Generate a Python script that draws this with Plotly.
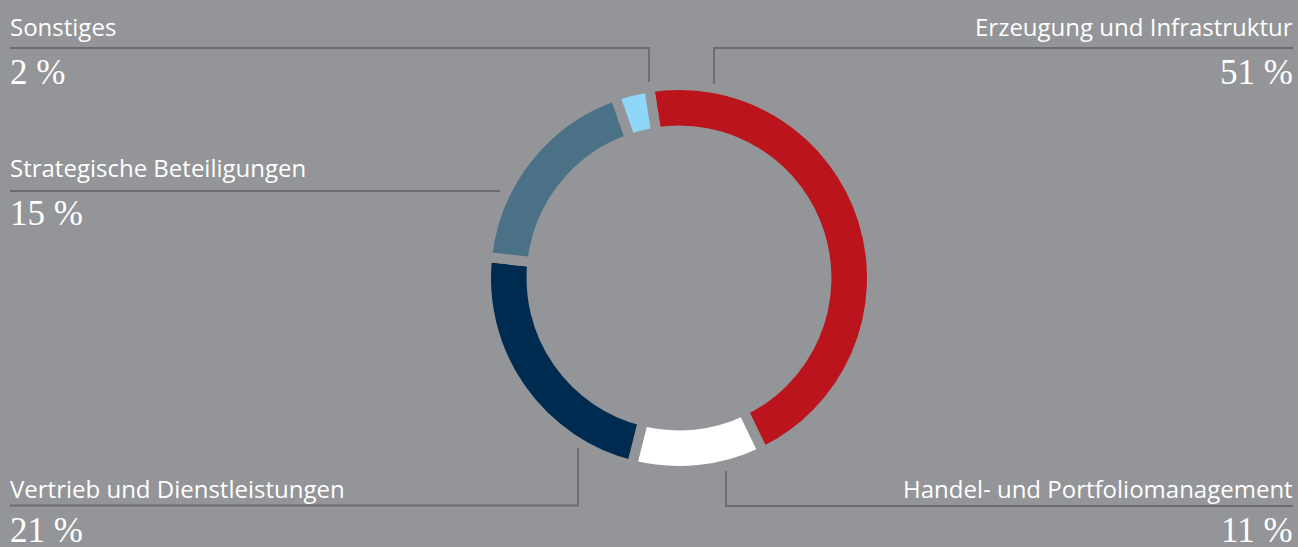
import plotly.graph_objects as go

# ---- data ----
categories = [
    "Erzeugung und Infrastruktur",
    "Handel- und Portfoliomanagement",
    "Vertrieb und Dienstleistungen",
    "Strategische Beteiligungen",
    "Sonstiges",
]
label_pct = [51, 11, 21, 15, 2]            # percentages printed in the chart
arc_share = [45.3, 11.1, 22.8, 17.9, 2.9]  # arc sizes as drawn in the ring
colors = ["#bb141c", "#ffffff", "#002b51", "#4a7185", "#8fd7f7"]

# ---- layout constants ----
W, H = 1298, 547
BG = "#939598"
LINE = "#6b6c70"
cx, cy, r = 679, 278, 193
hole = 0.764
gap = 10

label_font = dict(family="Open Sans", size=24, color="white")
pct_font = dict(family="Liberation Serif", size=35, color="white")

fig = go.Figure()
fig.add_trace(go.Pie(
    labels=categories,
    values=arc_share,
    sort=False,
    direction="clockwise",
    rotation=-8.9,
    hole=hole,
    marker=dict(colors=colors, line=dict(color=BG, width=gap)),
    textinfo="none",
    hoverinfo="label",
    showlegend=False,
    domain=dict(x=[(cx - r) / W, (cx + r) / W],
                y=[(H - cy - r) / H, (H - cy + r) / H]),
))

# label placement: (x, anchor, label baseline, pct baseline)
placement = {
    "Sonstiges": (10, "left", 36, 84),
    "Erzeugung und Infrastruktur": (1293, "right", 36, 84),
    "Strategische Beteiligungen": (10, "left", 177, 225),
    "Vertrieb und Dienstleistungen": (10, "left", 498, 542),
    "Handel- und Portfoliomanagement": (1293, "right", 498, 542),
}
leader_paths = [
    "M10,48 H649 V82",
    "M1293,48 H714 V84",
    "M10,191 H500",
    "M10,505.5 H578 V448",
    "M1293,506 H726 V471",
]

annotations = []
for cat, pct in zip(categories, label_pct):
    x, anc, lb, pb = placement[cat]
    annotations.append(dict(
        x=x, y=lb - 0.39 * label_font["size"], xref="x", yref="y",
        text=cat, showarrow=False, xanchor=anc, yanchor="middle",
        font=label_font, borderpad=0, borderwidth=0))
    annotations.append(dict(
        x=x, y=pb - 0.338 * pct_font["size"], xref="x", yref="y",
        text=f"{pct} %", showarrow=False, xanchor=anc, yanchor="middle",
        font=pct_font, borderpad=0, borderwidth=0))

shapes = [dict(type="path", path=p, xref="x", yref="y",
               line=dict(color=LINE, width=1.8)) for p in leader_paths]

fig.update_layout(
    width=W, height=H,
    margin=dict(l=0, r=0, t=0, b=0),
    paper_bgcolor=BG, plot_bgcolor=BG,
    xaxis=dict(range=[0, W], visible=False, fixedrange=True),
    yaxis=dict(range=[H, 0], visible=False, fixedrange=True),
    annotations=annotations,
    shapes=shapes,
)

fig.write_html(
    "out.html",
    config={"displayModeBar": False},
    post_script="document.body.style.margin='0';document.body.style.overflow='hidden';",
)
